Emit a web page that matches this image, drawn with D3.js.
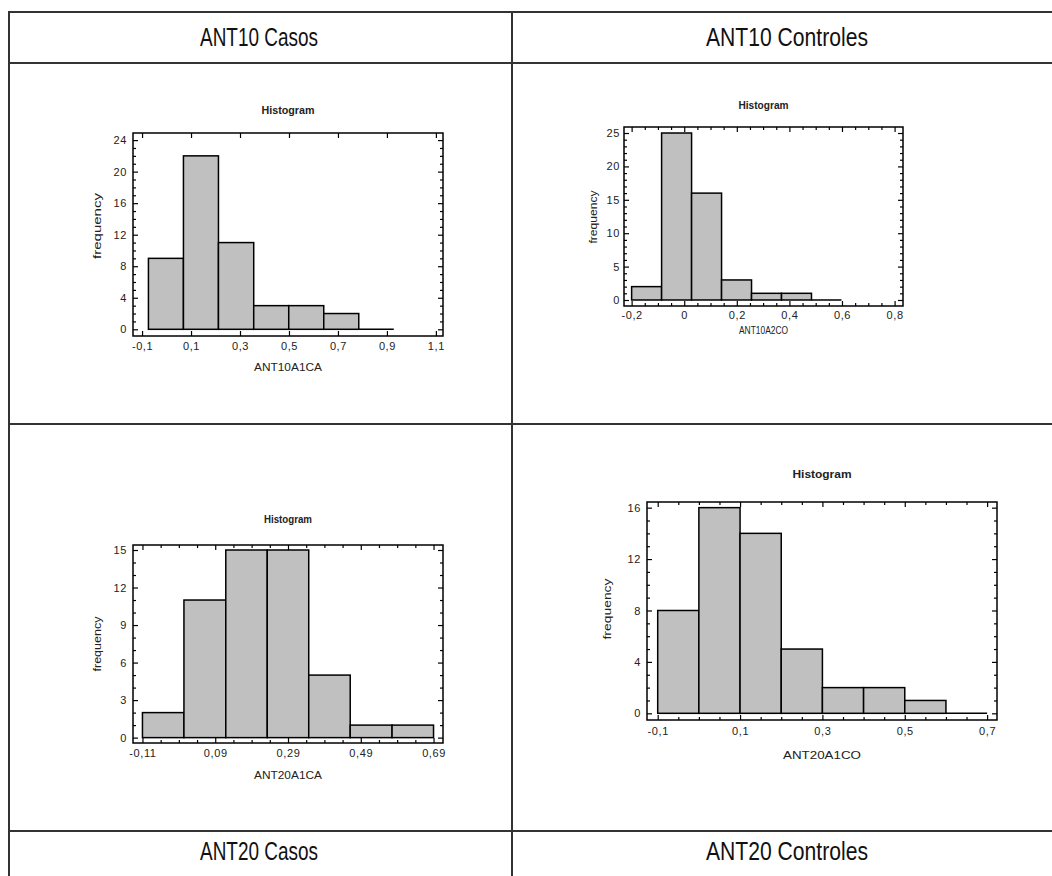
<!DOCTYPE html>
<html>
<head>
<meta charset="utf-8">
<script src="https://cdn.jsdelivr.net/npm/d3@7"></script>
<style>
  html, body { margin: 0; padding: 0; background: #fff; }
  svg { display: block; }
  .tick text { font-family: "Liberation Sans", Arial, sans-serif; fill: #222; letter-spacing: 0.6px; }
  .tick line { stroke: #000; stroke-width: 1.2; }
</style>
</head>
<body>
<svg id="page" width="1052" height="876"></svg>
<script>
// ---- ANT10 Casos ----
const ant10CasosEdges = [-0.074, 0.069, 0.212, 0.356, 0.499, 0.642, 0.785, 0.928];
const ant10CasosCounts = [9, 22, 11, 3, 3, 2, 0];
const ant10CasosXTicks = [-0.1, 0.1, 0.3, 0.5, 0.7, 0.9, 1.1];
const ant10CasosXLabels = ["-0,1", "0,1", "0,3", "0,5", "0,7", "0,9", "1,1"];
const ant10CasosYTicks = [0, 4, 8, 12, 16, 20, 24];

// ---- ANT10 Controles ----
const ant10ControlesEdges = [-0.2, -0.086, 0.028, 0.142, 0.256, 0.370, 0.484, 0.598];
const ant10ControlesCounts = [2, 25, 16, 3, 1, 1, 0];
const ant10ControlesXTicks = [-0.2, 0, 0.2, 0.4, 0.6, 0.8];
const ant10ControlesXLabels = ["-0,2", "0", "0,2", "0,4", "0,6", "0,8"];
const ant10ControlesYTicks = [0, 5, 10, 15, 20, 25];

// ---- ANT20 Casos ----
const ant20CasosEdges = [-0.11, 0.004, 0.119, 0.233, 0.347, 0.461, 0.576, 0.69];
const ant20CasosCounts = [2, 11, 15, 15, 5, 1, 1];
const ant20CasosXTicks = [-0.11, 0.09, 0.29, 0.49, 0.69];
const ant20CasosXLabels = ["-0,11", "0,09", "0,29", "0,49", "0,69"];
const ant20CasosYTicks = [0, 3, 6, 9, 12, 15];

// ---- ANT20 Controles ----
const ant20ControlesEdges = [-0.1, 0, 0.1, 0.2, 0.3, 0.4, 0.5, 0.6, 0.7];
const ant20ControlesCounts = [8, 16, 14, 5, 2, 2, 1, 0];
const ant20ControlesXTicks = [-0.1, 0.1, 0.3, 0.5, 0.7];
const ant20ControlesXLabels = ["-0,1", "0,1", "0,3", "0,5", "0,7"];
const ant20ControlesYTicks = [0, 4, 8, 12, 16];

// Table cell captions
const cellTitles = ["ANT10 Casos", "ANT10 Controles", "ANT20 Casos", "ANT20 Controles"];
const chartTitle = "Histogram";
const yAxisTitle = "frequency";
const xAxisTitles = ["ANT10A1CA", "ANT10A2CO", "ANT20A1CA", "ANT20A1CO"];

const svg = d3.select("#page");
const FONT = '"Liberation Sans", Arial, sans-serif';

// ---------- table grid ----------
const grid = svg.append("g").attr("stroke", "#333").attr("stroke-width", 2).attr("fill", "none");
grid.append("rect").attr("x", 9).attr("y", 12).attr("width", 1060).attr("height", 900);
[63, 424, 831].forEach(y => grid.append("line").attr("x1", 9).attr("x2", 1070).attr("y1", y).attr("y2", y));
grid.append("line").attr("x1", 512).attr("x2", 512).attr("y1", 12).attr("y2", 900);

const captions = [
  { text: cellTitles[0], x: 259, y: 37, w: 118 },
  { text: cellTitles[1], x: 787, y: 37, w: 162 },
  { text: cellTitles[2], x: 259, y: 851, w: 118 },
  { text: cellTitles[3], x: 787, y: 851, w: 162 }
];
captions.forEach(c => {
  svg.append("text")
    .attr("x", c.x).attr("y", c.y)
    .attr("text-anchor", "middle").attr("dominant-baseline", "central")
    .attr("font-family", '"Liberation Sans Narrow", ' + FONT)
    .attr("font-size", 25).attr("fill", "#111")
    .attr("textLength", c.w).attr("lengthAdjust", "spacingAndGlyphs")
    .text(c.text);
});

// ---------- histogram panel ----------
function histogram(cfg) {
  const g = svg.append("g");
  const x = d3.scaleLinear().domain(cfg.xDomain).range([cfg.left, cfg.right]);
  const y = d3.scaleLinear().domain(cfg.yDomain).range([cfg.bottom, cfg.top]);

  const bins = cfg.counts.map((c, i) => ({ x0: cfg.edges[i], x1: cfg.edges[i + 1], n: c }));

  // bars (an empty bin shows as a line on the zero baseline)
  g.selectAll("rect.bar").data(bins.filter(b => b.n > 0)).join("rect")
    .attr("class", "bar")
    .attr("x", d => x(d.x0)).attr("width", d => x(d.x1) - x(d.x0))
    .attr("y", d => y(d.n)).attr("height", d => y(0) - y(d.n))
    .attr("fill", "#c0c0c0").attr("stroke", "#000").attr("stroke-width", 1.5);
  g.selectAll("line.empty").data(bins.filter(b => b.n === 0)).join("line")
    .attr("class", "empty")
    .attr("x1", d => x(d.x0)).attr("x2", d => x(d.x1))
    .attr("y1", y(0)).attr("y2", y(0))
    .attr("stroke", "#000").attr("stroke-width", 1.5);

  const xFmt = d => cfg.xLabels[cfg.xTicks.indexOf(d)];
  const yMinor = d3.range(Math.ceil(cfg.yDomain[0]), Math.floor(cfg.yDomain[1]) + 1).filter(v => !cfg.yTicks.includes(v));
  const xMinor = cfg.xMinor
    ? d3.range(0, 200).map(k => +(cfg.xTicks[0] - 0.4 + k * cfg.xMinor).toFixed(4))
        .filter(v => v > cfg.xDomain[0] && v < cfg.xDomain[1] && !cfg.xTicks.some(t => Math.abs(t - v) < 1e-6))
    : [];

  function addAxis(axis, transform, minor) {
    const a = g.append("g").attr("transform", transform).call(axis);
    a.select(".domain").remove();
    a.attr("font-size", 11);
    if (minor) a.selectAll("text").remove();
    return a;
  }
  // bottom / top
  addAxis(d3.axisBottom(x).tickValues(cfg.xTicks).tickFormat(xFmt).tickSize(-5).tickPadding(cfg.xPad),
    `translate(0,${cfg.bottom})`);
  addAxis(d3.axisTop(x).tickValues(cfg.xTicks).tickFormat("").tickSize(-5), `translate(0,${cfg.top})`, true);
  if (xMinor.length) {
    addAxis(d3.axisBottom(x).tickValues(xMinor).tickFormat("").tickSize(-3), `translate(0,${cfg.bottom})`, true);
    addAxis(d3.axisTop(x).tickValues(xMinor).tickFormat("").tickSize(-3), `translate(0,${cfg.top})`, true);
  }
  // left / right
  addAxis(d3.axisLeft(y).tickValues(cfg.yTicks).tickFormat(d3.format("d")).tickSize(-5).tickPadding(cfg.yPad),
    `translate(${cfg.left},0)`);
  addAxis(d3.axisRight(y).tickValues(cfg.yTicks).tickFormat("").tickSize(-5), `translate(${cfg.right},0)`, true);
  addAxis(d3.axisLeft(y).tickValues(yMinor).tickFormat("").tickSize(-3), `translate(${cfg.left},0)`, true);
  addAxis(d3.axisRight(y).tickValues(yMinor).tickFormat("").tickSize(-3), `translate(${cfg.right},0)`, true);

  // frame
  g.append("rect")
    .attr("x", cfg.left).attr("y", cfg.top)
    .attr("width", cfg.right - cfg.left).attr("height", cfg.bottom - cfg.top)
    .attr("fill", "none").attr("stroke", "#000").attr("stroke-width", 1.5);

  // titles
  const cx = (cfg.left + cfg.right) / 2;
  g.append("text").attr("x", cx).attr("y", cfg.titleY)
    .attr("text-anchor", "middle").attr("dominant-baseline", "central")
    .attr("font-family", FONT).attr("font-size", 10).attr("font-weight", "bold").attr("fill", "#222")
    .attr("textLength", cfg.titleW).attr("lengthAdjust", "spacingAndGlyphs")
    .text(chartTitle);
  g.append("text").attr("x", cx).attr("y", cfg.xTitleY)
    .attr("text-anchor", "middle").attr("dominant-baseline", "central")
    .attr("font-family", FONT).attr("font-size", 10.5).attr("fill", "#222")
    .attr("textLength", cfg.xTitleW).attr("lengthAdjust", "spacingAndGlyphs")
    .text(cfg.xTitle);
  g.append("text")
    .attr("transform", `translate(${cfg.yTitleX},${cfg.yTitleY}) rotate(-90)`)
    .attr("text-anchor", "middle").attr("dominant-baseline", "central")
    .attr("font-family", FONT).attr("font-size", 11).attr("fill", "#222")
    .attr("textLength", cfg.yTitleW).attr("lengthAdjust", "spacingAndGlyphs")
    .text(yAxisTitle);
}

histogram({
  edges: ant10CasosEdges, counts: ant10CasosCounts,
  xTicks: ant10CasosXTicks, xLabels: ant10CasosXLabels, yTicks: ant10CasosYTicks, xMinor: 0,
  left: 133, right: 443, top: 133, bottom: 336,
  xDomain: [-0.137, 1.129], yDomain: [-0.85, 24.9],
  xPad: 6, yPad: 6,
  titleY: 110, titleW: 53, xTitle: xAxisTitles[0], xTitleY: 367, xTitleW: 68,
  yTitleX: 97, yTitleY: 226, yTitleW: 66
});

histogram({
  edges: ant10ControlesEdges, counts: ant10ControlesCounts,
  xTicks: ant10ControlesXTicks, xLabels: ant10ControlesXLabels, yTicks: ant10ControlesYTicks, xMinor: 0.05,
  left: 624, right: 903, top: 127, bottom: 306,
  xDomain: [-0.229, 0.832], yDomain: [-0.9, 25.9],
  xPad: 5, yPad: 4,
  titleY: 105, titleW: 50, xTitle: xAxisTitles[1], xTitleY: 330, xTitleW: 49,
  yTitleX: 593, yTitleY: 217, yTitleW: 53
});

histogram({
  edges: ant20CasosEdges, counts: ant20CasosCounts,
  xTicks: ant20CasosXTicks, xLabels: ant20CasosXLabels, yTicks: ant20CasosYTicks, xMinor: 0.05,
  left: 133, right: 443, top: 545, bottom: 743,
  xDomain: [-0.136, 0.716], yDomain: [-0.43, 15.4],
  xPad: 6, yPad: 6,
  titleY: 519, titleW: 48, xTitle: xAxisTitles[2], xTitleY: 775, xTitleW: 68,
  yTitleX: 97, yTitleY: 644, yTitleW: 55
});

histogram({
  edges: ant20ControlesEdges, counts: ant20ControlesCounts,
  xTicks: ant20ControlesXTicks, xLabels: ant20ControlesXLabels, yTicks: ant20ControlesYTicks, xMinor: 0.05,
  left: 647, right: 997, top: 502, bottom: 720,
  xDomain: [-0.126, 0.724], yDomain: [-0.52, 16.44],
  xPad: 7, yPad: 6,
  titleY: 474, titleW: 59, xTitle: xAxisTitles[3], xTitleY: 755, xTitleW: 78,
  yTitleX: 607, yTitleY: 609, yTitleW: 61
});
</script>
</body>
</html>
